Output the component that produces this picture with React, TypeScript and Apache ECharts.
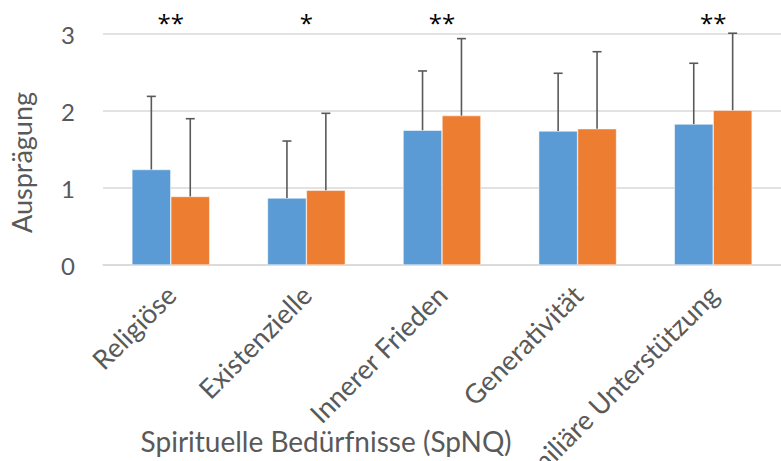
import React, { useEffect, useRef } from "react";
import * as echarts from "echarts";

const categories = ["Religiöse", "Existenzielle", "Innerer Frieden", "Generativität", "Familiäre Unterstützung"];
const meanBlue = [1.24, 0.87, 1.75, 1.74, 1.83];
const meanOrange = [0.89, 0.97, 1.94, 1.77, 2.01];
const errBlue = [0.95, 0.74, 0.77, 0.75, 0.79];
const errOrange = [1.01, 1.0, 1.0, 1.0, 1.0];
const significance = ["**", "*", "**", "", "**"];
const yTicks = [0, 1, 2, 3];

const BAR_FRAC = 0.287;
const FONT = "Lato, 'Open Sans', sans-serif";
const TEXT = "#595959";

function errorSeries(means: number[], errs: number[], side: number) {
  return {
    type: "custom",
    clip: false,
    z: 5,
    data: means.map((m, i) => [i, m, errs[i]]),
    renderItem: (params: any, api: any) => {
      const idx = api.value(0);
      const m = api.value(1);
      const e = api.value(2);
      const band = api.size([1, 0])[0];
      const off = (side * band * BAR_FRAC) / 2;
      const p0 = api.coord([idx, m]);
      const p1 = api.coord([idx, m + e]);
      const x = p0[0] + off;
      const style = { stroke: "#595959", lineWidth: 1.6 };
      return {
        type: "group",
        children: [
          { type: "line", shape: { x1: x, y1: p0[1], x2: x, y2: p1[1] }, style },
          { type: "line", shape: { x1: x - 4.5, y1: p1[1], x2: x + 4.5, y2: p1[1] }, style },
        ],
      };
    },
  };
}

export default function App() {
  const ref = useRef<HTMLDivElement>(null);
  useEffect(() => {
    document.body.style.margin = "0";
    const chart = echarts.init(ref.current!, null, { renderer: "svg" });
    chart.setOption({
      animation: false,
      backgroundColor: "#ffffff",
      grid: { left: 103, right: 0, top: 34, bottom: 196, containLabel: false, outerBoundsMode: "none" },
      xAxis: {
        type: "category",
        data: categories,
        name: "Spirituelle Bedürfnisse (SpNQ)",
        nameLocation: "middle",
        nameGap: 162,
        nameMoveOverlap: false,
        nameTextStyle: { fontFamily: FONT, fontSize: 28, color: TEXT, padding: [0, 232, 0, 0] },
        axisLine: { show: true, lineStyle: { color: "#D9D9D9", width: 1.5 } },
        axisTick: { show: false },
        axisLabel: {
          interval: 0,
          rotate: 45,
          margin: 25,
          fontFamily: FONT,
          fontSize: 27,
          color: TEXT,
          hideOverlap: false,
        },
      },
      yAxis: {
        type: "value",
        min: 0,
        max: 3,
        interval: 1,
        name: "Ausprägung",
        nameLocation: "middle",
        nameGap: 68,
        nameMoveOverlap: false,
        nameTextStyle: { fontFamily: FONT, fontSize: 27, color: TEXT, padding: [0, 26, 0, 0] },
        axisLine: { show: false },
        axisTick: { show: false },
        splitLine: { lineStyle: { color: "#D9D9D9", width: 1.5 } },
        axisLabel: {
          margin: 28,
          fontFamily: FONT,
          fontSize: 24,
          color: TEXT,
          formatter: (v: number) => (yTicks.includes(v) ? String(v) : ""),
        },
      },
      series: [
        {
          type: "bar",
          data: meanBlue,
          barWidth: (BAR_FRAC * 100).toFixed(1) + "%",
          barGap: "0%",
          itemStyle: { color: "#5B9BD5", borderColor: "#ffffff", borderWidth: 0.5 },
        },
        {
          type: "bar",
          data: meanOrange,
          barWidth: (BAR_FRAC * 100).toFixed(1) + "%",
          barGap: "0%",
          itemStyle: { color: "#ED7D31", borderColor: "#ffffff", borderWidth: 0.5 },
        },
        errorSeries(meanBlue, errBlue, -1),
        errorSeries(meanOrange, errOrange, 1),
        {
          type: "custom",
          clip: false,
          z: 6,
          data: significance.map((s, i) => [i, 3]),
          renderItem: (params: any, api: any) => {
            const p = api.coord([api.value(0), api.value(1)]);
            const s = significance[params.dataIndex];
            return {
              type: "text",
              x: p[0],
              y: p[1] - 12,
              style: {
                text: s,
                fontFamily: "'Open Sans', sans-serif",
                fontSize: 24,
                fill: "#000000",
                align: "center",
                verticalAlign: "middle",
              },
            };
          },
        },
      ],
    });
    return () => chart.dispose();
  }, []);
  return <div ref={ref} style={{ position: "fixed", left: 0, top: 0, width: 781, height: 461 }} />;
}
